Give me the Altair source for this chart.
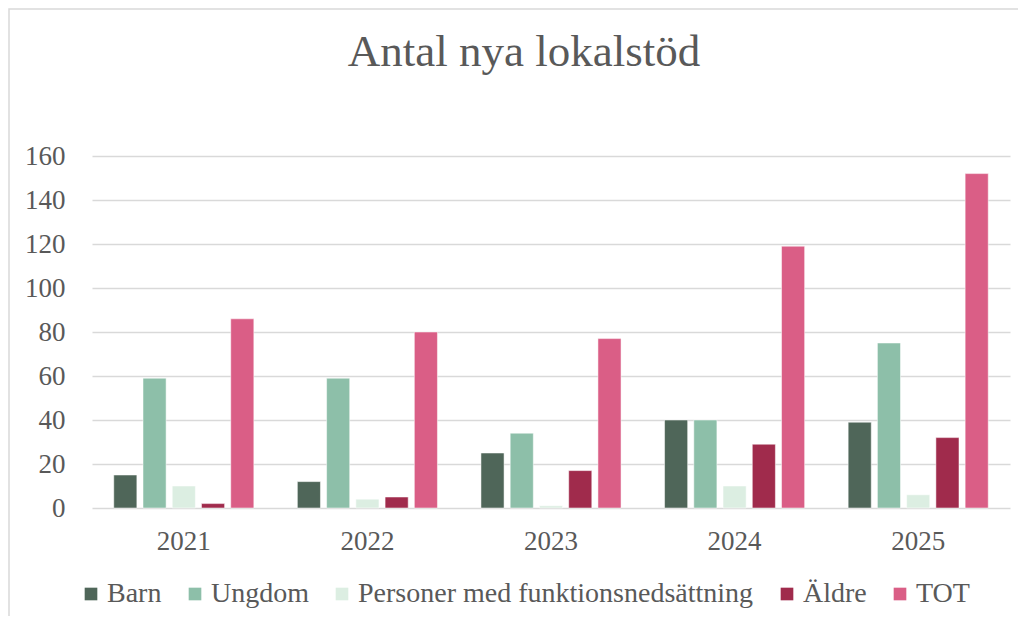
import altair as alt
import pandas as pd

years = ["2021", "2022", "2023", "2024", "2025"]
series = ["Barn", "Ungdom", "Personer med funktionsnedsättning", "Äldre", "TOT"]
barn = [15, 12, 25, 40, 39]
ungdom = [59, 59, 34, 40, 75]
personer = [10, 4, 1, 10, 6]
aldre = [2, 5, 17, 29, 32]
tot = [86, 80, 77, 119, 152]
colors = ["#4F6659", "#8DBFA9", "#DCEEE2", "#A02B4C", "#DA5E86"]

rows = []
for s, vals in zip(series, [barn, ungdom, personer, aldre, tot]):
    for y, v in zip(years, vals):
        rows.append({"År": y, "Grupp": s, "Antal": v})
df = pd.DataFrame(rows)

FONT = "Liberation Serif"
GRAY = "#595959"

bars = alt.Chart(df).mark_bar(stroke="#FFFFFF", strokeOpacity=0.5, strokeWidth=1).encode(
    x=alt.X("År:N", sort=years, title=None,
            scale=alt.Scale(paddingInner=0.237, paddingOuter=0.1185),
            axis=alt.Axis(labelAngle=0, labelFontSize=27, labelFont=FONT, labelColor=GRAY,
                          ticks=False, domain=False, labelPadding=20)),
    xOffset=alt.XOffset("Grupp:N", sort=series,
                        scale=alt.Scale(paddingInner=0.21, paddingOuter=0)),
    y=alt.Y("Antal:Q", title=None,
            scale=alt.Scale(domain=[0, 160], nice=False),
            axis=alt.Axis(values=list(range(0, 161, 20)), labelFontSize=27, labelFont=FONT,
                          labelColor=GRAY, ticks=False, domain=False, labelPadding=27,
                          gridColor="#D9D9D9", gridWidth=1.5)),
    color=alt.Color("Grupp:N", sort=series,
                    scale=alt.Scale(domain=series, range=colors),
                    legend=alt.Legend(title=None, orient="none", direction="horizontal",
                                      legendX=-15, legendY=424, symbolType="square",
                                      symbolSize=160, symbolStrokeWidth=0,
                                      labelFont=FONT, labelFontSize=28, labelColor=GRAY,
                                      labelOffset=2, columnPadding=19, labelLimit=600)),
)

border = alt.Chart(pd.DataFrame({"a": [0]})).mark_rect(
    fill=None, stroke="#D9D9D9", strokeWidth=1.5, clip=False
).encode(x=alt.value(-83), x2=alt.value(1100), y=alt.value(-147), y2=alt.value(800))

chart = alt.layer(border, bars).properties(
    width=918, height=352,
    title=alt.TitleParams("Antal nya lokalstöd", font=FONT, fontSize=45, fontWeight="normal",
                          color=GRAY, anchor="middle", frame="group", offset=86,
                          dy=153, dx=-27),
    padding={"left": 84, "top": 148, "right": 8, "bottom": 108},
    autosize=alt.AutoSizeParams(type="none"),
).configure_view(stroke=None).configure_axis(labelFont=FONT)

chart.save("out.html", embed_options={"renderer": "svg", "actions": False})
